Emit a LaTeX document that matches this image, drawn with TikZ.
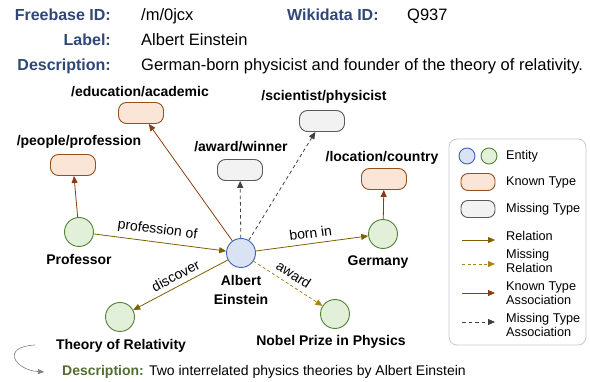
\documentclass[tikz,border=0pt]{standalone}
\usepackage{fontspec}
\setmainfont{Liberation Sans}
\usetikzlibrary{arrows.meta}
\definecolor{hdrblue}{RGB}{47,70,120}
\definecolor{entblueF}{RGB}{218,227,243}
\definecolor{entblueD}{RGB}{62,100,175}
\definecolor{entgreenF}{RGB}{226,240,217}
\definecolor{entgreenD}{RGB}{84,130,53}
\definecolor{knownF}{RGB}{251,229,214}
\definecolor{knownD}{RGB}{150,80,30}
\definecolor{missF}{RGB}{242,242,242}
\definecolor{missD}{RGB}{90,90,90}
\definecolor{relC}{RGB}{127,96,0}
\definecolor{mrelC}{RGB}{170,130,30}
\definecolor{ktaC}{RGB}{140,60,15}
\definecolor{mtaC}{RGB}{64,64,64}
\definecolor{descG}{RGB}{84,110,50}
\definecolor{legD}{RGB}{200,200,200}
\tikzset{
  hk/.style={font=\bfseries\fontsize{16}{18}\selectfont, text=hdrblue, inner sep=0pt},
  hv/.style={font=\fontsize{16.5}{18}\selectfont, inner sep=0pt},
  ent/.style={circle, minimum size=29pt, inner sep=0pt, line width=0.9pt},
  einst/.style={ent, draw=entblueD, fill=entblueF},
  gent/.style={ent, draw=entgreenD, fill=entgreenF},
  tbox/.style={rounded corners=8pt, minimum width=45pt, minimum height=21pt, inner sep=0pt, line width=0.9pt},
  ktype/.style={tbox, draw=knownD, fill=knownF},
  mtype/.style={tbox, draw=missD, fill=missF},
  tipx/.style={-{Triangle[length=7pt,width=6pt]}},
  rel/.style={draw=relC, line width=0.8pt, tipx},
  mrel/.style={draw=mrelC, line width=0.8pt, tipx, dash pattern=on 3pt off 2.5pt},
  kta/.style={draw=ktaC, line width=0.8pt, tipx},
  mta/.style={draw=mtaC, line width=0.8pt, tipx, dash pattern=on 3.5pt off 3pt},
  lbl/.style={font=\bfseries\fontsize{14}{19}\selectfont, inner sep=0pt},
  elab/.style={font=\fontsize{14}{16}\selectfont, sloped, above=4pt, inner sep=1pt},
  legt/.style={font=\fontsize{12.7}{14}\selectfont, inner sep=0pt, anchor=west, align=left},
}
\begin{document}
\begin{tikzpicture}[x=1pt,y=-1pt]
\useasboundingbox (0,0) rectangle (590,382);
% header
\node[hk, anchor=base east] (fbk) at (111,20.5) {Freebase ID:};
\node[hv, anchor=base west] (fbv) at (141,20.5) {/m/0jcx};
\node[hk, anchor=base west] (wdk) at (287,20.5) {Wikidata ID:};
\node[hv, anchor=base west] (wdv) at (407,20.5) {Q937};
\node[hk, anchor=base east] (lbk) at (111,45.5) {Label:};
\node[hv, anchor=base west] (lbv) at (141,45.5) {Albert Einstein};
\node[hk, anchor=base east] (dsk) at (111,71) {Description:};
\node[hv, anchor=base west] (dsv) at (141,71) {German-born physicist and founder of the theory of relativity.};
% entities
\node[einst] (ein) at (241,253) {};
\node[gent] (prof) at (79,232) {};
\node[gent] (ger) at (383,234) {};
\node[gent] (tor) at (120,317) {};
\node[gent] (nob) at (335,314) {};
\node[lbl] (profl) at (79,259) {Professor};
\node[lbl] (gerl) at (378,262) {Germany};
\node[lbl] (torl) at (121,346) {Theory of Relativity};
\node[lbl] (nobl) at (331,342) {Nobel Prize in Physics};
\node[lbl, align=center] (einl) at (241,289.5) {Albert\\Einstein};
% types
\node[ktype] (edu) at (141,113) {};
\node[ktype] (pp) at (73,165) {};
\node[mtype] (aw) at (240,170) {};
\node[mtype] (sp) at (322,121) {};
\node[ktype] (lc) at (384,179) {};
\node[lbl] (edul) at (140,92) {/education/academic};
\node[lbl] (ppl) at (79,142) {/people/profession};
\node[lbl] (awl) at (241,147) {/award/winner};
\node[lbl] (spl) at (324,97) {/scientist/physicist};
\node[lbl] (lcl) at (382,158) {/location/country};
% edges
\draw[rel] (prof) -- node[elab, pos=0.47] {profession of} (ein);
\draw[rel] (ein) -- node[elab] {born in} (ger);
\draw[rel] (ein) -- node[elab] {discover} (tor);
\draw[mrel] (ein) -- node[elab] {award} (nob);
\draw[kta] (ein) -- (edu);
\draw[kta] (prof) -- (pp);
\draw[kta] (ger) -- (lc);
\draw[mta] (ein) -- (aw);
\draw[mta] (ein) -- (sp);
% legend
\node[draw=legD, rounded corners=8pt, minimum width=137pt, minimum height=206pt, line width=0.8pt, inner sep=0pt] (leg) at (517.5,242) {};
\node[ent, minimum size=16pt, draw=entblueD, fill=entblueF] (lgb) at (467,156) {};
\node[ent, minimum size=16pt, draw=entgreenD, fill=entgreenF] (lgg) at (489,156) {};
\node[legt] (lgt1) at (506,156) {Entity};
\node[ktype, minimum width=34pt, minimum height=17pt, rounded corners=7pt] (lgk) at (478,182) {};
\node[legt] (lgt2) at (506,182.5) {Known Type};
\node[mtype, minimum width=34pt, minimum height=17pt, rounded corners=7pt] (lgm) at (478,209) {};
\node[legt] (lgt3) at (506,209.5) {Missing Type};
\coordinate (r1a) at (462,240); \coordinate (r1b) at (495,240);
\draw[rel] (r1a) -- (r1b);
\node[legt] (lgt4) at (506,236) {Relation};
\coordinate (r2a) at (462,264); \coordinate (r2b) at (495,264);
\draw[mrel] (r2a) -- (r2b);
\node[legt] (lgt5) at (506,261) {Missing\\Relation};
\coordinate (r3a) at (462,293); \coordinate (r3b) at (495,293);
\draw[kta] (r3a) -- (r3b);
\node[legt] (lgt6) at (506,293.5) {Known Type\\Association};
\coordinate (r4a) at (462,322); \coordinate (r4b) at (495,322);
\draw[mta] (r4a) -- (r4b);
\node[legt] (lgt7) at (506,325) {Missing Type\\Association};
% bottom description
\coordinate (cs) at (35,345); \coordinate (ce) at (44,372);
\draw[draw=gray, line width=0.6pt, -{Triangle[length=6pt,width=5pt]}] (cs) .. controls (0,347) and (15,370) .. (ce);
\node[font=\fontsize{14}{16}\selectfont, anchor=west, inner sep=0pt] (bd) at (62,372) {\textcolor{descG}{\bfseries Description:} Two interrelated physics theories by Albert Einstein};
\end{tikzpicture}
\end{document}
